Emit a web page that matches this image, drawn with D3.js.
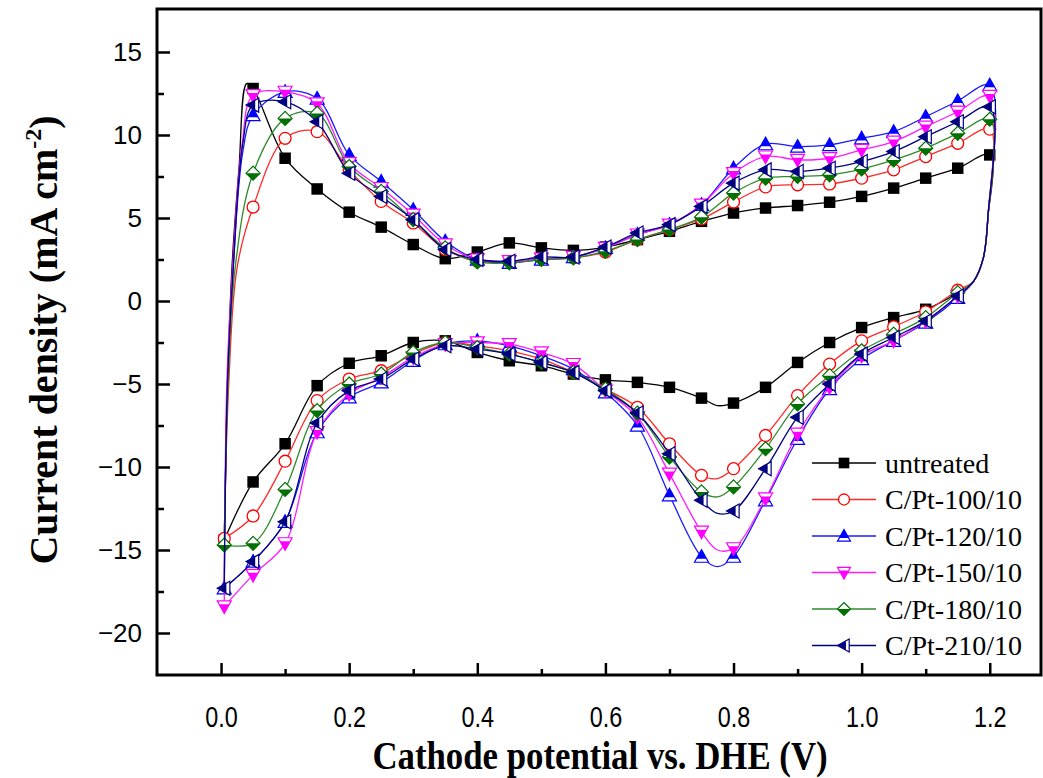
<!DOCTYPE html>
<html>
<head>
<meta charset="utf-8">
<script src="https://cdn.jsdelivr.net/npm/d3@7"></script>
<style>
  body { margin: 0; background: #fff; }
  svg { display: block; }
  .axis path, .axis line { stroke: #000; }
  .ytick text { font-family: "Liberation Sans", Arial, sans-serif; font-size: 26px; }
  .xtick text { font-family: "Liberation Sans", Arial, sans-serif; font-size: 30px; }
  .title { font-family: "Liberation Serif", "Times New Roman", serif; font-weight: bold; font-size: 40px; }
  .legend text { font-family: "Liberation Serif", "Times New Roman", serif; font-size: 28px; }
</style>
</head>
<body>
<svg id="chart" width="1043" height="778"></svg>
<script>
'use strict';

// potentials where the markers sit (V vs DHE)
const fwdV = [0.05, 0.10, 0.15, 0.20, 0.25, 0.30, 0.35, 0.40, 0.45, 0.50, 0.55, 0.60,
              0.65, 0.70, 0.75, 0.80, 0.85, 0.90, 0.95, 1.00, 1.05, 1.10, 1.15, 1.20];
const bwdV = [1.15, 1.10, 1.05, 1.00, 0.95, 0.90, 0.85, 0.80, 0.75, 0.70, 0.65, 0.60,
              0.55, 0.50, 0.45, 0.40, 0.35, 0.30, 0.25, 0.20, 0.15, 0.10, 0.05, 0.005];

// sharp turn at the anodic end (no markers)
const turnV = [1.197, 1.19, 1.175];
const turnJ = [5.0, 2.6, 1.2];

const seriesNames = ['untreated', 'C/Pt-100/10', 'C/Pt-120/10', 'C/Pt-150/10', 'C/Pt-180/10', 'C/Pt-210/10'];

// current density, mA cm-2, anodic scan
const untreatedFwd = [12.8, 8.6, 6.75, 5.35, 4.45, 3.4, 2.55, 2.95, 3.5, 3.2, 3.05, 3.25,
                      3.7, 4.2, 4.8, 5.3, 5.6, 5.75, 5.95, 6.3, 6.8, 7.4, 8.0, 8.8];
const pt100Fwd = [5.66, 9.8, 10.2, 7.9, 6.0, 4.7, 3.1, 2.4, 2.35, 2.5, 2.6, 2.95,
                  3.7, 4.3, 4.94, 5.96, 6.87, 7.0, 7.05, 7.4, 7.9, 8.7, 9.5, 10.35];
const pt120Fwd = [11.2, 12.6, 12.2, 8.8, 7.2, 5.5, 3.6, 2.5, 2.3, 2.5, 2.65, 3.2,
                  4.0, 4.6, 5.8, 8.0, 9.45, 9.3, 9.4, 9.8, 10.2, 11.1, 12.05, 13.0];
const pt150Fwd = [12.4, 12.6, 11.9, 8.3, 6.8, 5.2, 3.4, 2.5, 2.4, 2.55, 2.65, 3.2,
                  4.0, 4.6, 5.8, 7.7, 8.7, 8.5, 8.6, 9.1, 9.6, 10.5, 11.4, 12.35];
const pt180Fwd = [7.7, 11.0, 11.3, 8.1, 6.6, 4.9, 3.2, 2.35, 2.3, 2.5, 2.6, 3.0,
                  3.7, 4.3, 5.05, 6.5, 7.4, 7.5, 7.6, 7.95, 8.5, 9.2, 10.1, 10.95];
const pt210Fwd = [11.8, 12.0, 10.8, 7.7, 6.3, 4.9, 3.1, 2.5, 2.4, 2.65, 2.65, 3.25,
                  4.1, 4.6, 5.7, 7.1, 7.9, 7.8, 8.0, 8.4, 9.0, 9.9, 10.8, 11.7];

// cathodic scan
const untreatedBwd = [0.5, -0.5, -1.0, -1.6, -2.5, -3.7, -5.2, -6.15, -5.85, -5.2, -4.9, -4.75,
                      -4.4, -3.9, -3.6, -3.1, -2.4, -2.5, -3.3, -3.75, -5.1, -8.6, -10.9, -14.4];
const pt100Bwd = [0.65, -0.65, -1.55, -2.4, -3.8, -5.7, -8.1, -10.1, -10.5, -8.6, -6.4, -5.3,
                  -4.3, -3.5, -3.0, -2.7, -2.5, -3.2, -4.2, -4.7, -6.0, -9.65, -12.95, -14.3];
const pt120Bwd = [0.2, -1.3, -2.4, -3.5, -5.3, -8.3, -12.0, -15.4, -15.4, -11.7, -7.5, -5.5,
                  -4.1, -3.3, -2.7, -2.4, -2.6, -3.6, -4.9, -5.8, -7.9, -13.3, -15.7, -17.3];
const pt150Bwd = [0.3, -1.2, -2.4, -3.3, -5.2, -8.0, -11.9, -14.9, -13.9, -10.4, -7.0, -5.4,
                  -3.8, -3.1, -2.6, -2.5, -2.6, -3.4, -4.6, -5.6, -7.9, -14.6, -16.5, -18.4];
const pt180Bwd = [0.5, -1.0, -2.0, -3.0, -4.5, -6.2, -8.9, -11.2, -11.5, -9.4, -6.75, -5.3,
                  -4.3, -3.7, -3.2, -2.8, -2.5, -3.1, -4.4, -5.0, -6.6, -11.35, -14.6, -14.7];
const pt210Bwd = [0.3, -1.2, -2.2, -3.2, -5.0, -7.0, -10.1, -12.65, -12.0, -9.2, -6.75, -5.4,
                  -4.3, -3.7, -3.2, -2.9, -2.7, -3.5, -4.7, -5.4, -7.35, -13.3, -15.7, -17.3];

// steep rise from the cathodic end up to the first marker (no markers)
const untreatedRise = [[0.010, -5], [0.017, 2], [0.028, 8], [0.040, 13.1]];
const pt100Rise = [[0.012, -5], [0.025, 2]];
const pt120Rise = [[0.010, -5], [0.019, 2], [0.034, 9]];
const pt150Rise = [[0.009, -5], [0.018, 2], [0.033, 9.5]];
const pt180Rise = [[0.011, -5], [0.022, 2]];
const pt210Rise = [[0.010, -5], [0.019, 2], [0.034, 9.5]];

// bottom of the cathodic peak, between the 0.80 and 0.75 markers (no markers)
const peakV = 0.775;
const peakJ = [-6.3, -10.7, -16.0, -15.0, -11.8, -12.8];

const xTicks = [0.0, 0.2, 0.4, 0.6, 0.8, 1.0, 1.2];
const yTicks = [-20, -15, -10, -5, 0, 5, 10, 15];

const fwdAll = [untreatedFwd, pt100Fwd, pt120Fwd, pt150Fwd, pt180Fwd, pt210Fwd];
const bwdAll = [untreatedBwd, pt100Bwd, pt120Bwd, pt150Bwd, pt180Bwd, pt210Bwd];
const riseAll = [untreatedRise, pt100Rise, pt120Rise, pt150Rise, pt180Rise, pt210Rise];

const lineColors = ['#000000', '#ff2a2a', '#1a1aff', '#ff1aff', '#2e8b2e', '#000080'];
const markColors = ['#000000', '#ff0000', '#0000ff', '#ff00ff', '#007000', '#000080'];
const shapes = ['square', 'circle', 'up', 'down', 'diamond', 'left'];

const svg = d3.select('#chart');

const frame = {left: 157, right: 1041, top: 9, bottom: 675};

const x = d3.scaleLinear().domain([-0.1, 1.28]).range([frame.left, frame.right]);
const y = d3.scaleLinear().domain([-22.53, 17.59]).range([frame.bottom, frame.top]);

// ---- axes (ticks point inward)
const xAxis = d3.axisBottom(x).tickValues(xTicks).tickSize(-12).tickPadding(31)
  .tickFormat(d3.format('.1f'));
const xMinor = d3.axisBottom(x).tickValues([0.1, 0.3, 0.5, 0.7, 0.9, 1.1]).tickSize(-6).tickFormat('');

svg.append('g').attr('class', 'axis xtick')
  .attr('transform', `translate(0,${frame.bottom})`)
  .call(xAxis)
  .call(g => g.select('.domain').remove())
  .call(g => g.selectAll('line').attr('stroke-width', 2.5))
  // narrow digits like the original
  .call(g => g.selectAll('text').attr('transform', 'scale(0.78,1)'));
svg.append('g').attr('class', 'axis')
  .attr('transform', `translate(0,${frame.bottom})`)
  .call(xMinor)
  .call(g => g.select('.domain').remove())
  .call(g => g.selectAll('line').attr('stroke-width', 2.5));

const yAxis = d3.axisLeft(y).tickValues(yTicks).tickSize(-13).tickPadding(15);
const yMinor = d3.axisLeft(y).tickValues([-17.5, -12.5, -7.5, -2.5, 2.5, 7.5, 12.5]).tickSize(-7).tickFormat('');

svg.append('g').attr('class', 'axis ytick')
  .attr('transform', `translate(${frame.left},0)`)
  .call(yAxis)
  .call(g => g.select('.domain').remove())
  .call(g => g.selectAll('line').attr('stroke-width', 2.5));
svg.append('g').attr('class', 'axis')
  .attr('transform', `translate(${frame.left},0)`)
  .call(yMinor)
  .call(g => g.select('.domain').remove())
  .call(g => g.selectAll('line').attr('stroke-width', 2.5));

// frame
svg.append('rect')
  .attr('x', frame.left).attr('y', frame.top)
  .attr('width', frame.right - frame.left).attr('height', frame.bottom - frame.top)
  .attr('fill', 'none').attr('stroke', '#000').attr('stroke-width', 3);

// titles
svg.append('text').attr('class', 'title')
  .attr('transform', 'translate(600,769) scale(0.87,1)')
  .attr('text-anchor', 'middle')
  .text('Cathode potential vs. DHE (V)');

const yt = svg.append('text').attr('class', 'title')
  .attr('transform', 'translate(57,340) rotate(-90)')
  .attr('text-anchor', 'middle');
yt.append('tspan').text('Current density (mA cm');
yt.append('tspan').attr('font-size', '24px').attr('dy', -16).text('-2');
yt.append('tspan').attr('dy', 16).text(')');

// ---- marker drawing
function drawMarker(g, shape, color, s) {
  if (shape === 'square') {
    g.append('rect').attr('x', -s * 0.82).attr('y', -s * 0.82)
      .attr('width', s * 1.64).attr('height', s * 1.64).attr('fill', color);
  } else if (shape === 'circle') {
    g.append('circle').attr('r', s * 0.85).attr('fill', '#fff')
      .attr('stroke', color).attr('stroke-width', 1.3);
  } else if (shape === 'up') {
    g.append('path').attr('d', `M0,${-s}L${s},${s * 0.8}L${-s},${s * 0.8}Z`)
      .attr('fill', '#fff').attr('stroke', color).attr('stroke-width', 1.2);
    g.append('path').attr('d', `M0,${-s}L${s * 0.72},${s * 0.3}L${-s * 0.72},${s * 0.3}Z`)
      .attr('fill', color);
  } else if (shape === 'down') {
    g.append('path').attr('d', `M${-s},${-s * 0.8}L${s},${-s * 0.8}L0,${s}Z`)
      .attr('fill', '#fff').attr('stroke', color).attr('stroke-width', 1.2);
    g.append('path').attr('d', `M${-s * 0.72},${-s * 0.3}L${s * 0.72},${-s * 0.3}L0,${s}Z`)
      .attr('fill', color);
  } else if (shape === 'diamond') {
    g.append('path').attr('d', `M0,${-s}L${s},0L0,${s}L${-s},0Z`)
      .attr('fill', '#fff').attr('stroke', color).attr('stroke-width', 1.2);
    g.append('path').attr('d', `M${-s},0L${s},0L0,${s}Z`)
      .attr('fill', color);
  } else if (shape === 'left') {
    g.append('path').attr('d', `M${-s},0L${s * 0.8},${-s}L${s * 0.8},${s}Z`)
      .attr('fill', '#fff').attr('stroke', color).attr('stroke-width', 1.2);
    g.append('path').attr('d', `M${-s},0L${s * 0.3},${-s * 0.72}L${s * 0.3},${s * 0.72}Z`)
      .attr('fill', color);
  }
}

// ---- curves
const line = d3.line()
  .x(d => x(d[0]))
  .y(d => y(d[1]))
  .curve(d3.curveCatmullRom.alpha(0.5));

const plot = svg.append('g');

seriesNames.forEach((name, i) => {
  const fwd = fwdV.map((v, k) => [v, fwdAll[i][k]]);
  const bwd = bwdV.map((v, k) => [v, bwdAll[i][k]]);
  const turn = turnV.map((v, k) => [v, turnJ[k]]);
  const start = bwd[bwd.length - 1];
  // the cathodic path with the unmarked peak bottom slotted in after 0.80
  const k80 = bwdV.indexOf(0.80);
  const bwdPath = bwd.slice(0, k80 + 1).concat([[peakV, peakJ[i]]], bwd.slice(k80 + 1));
  const pts = [start].concat(riseAll[i], fwd, turn, bwdPath);

  const g = plot.append('g');
  g.append('path')
    .attr('d', line(pts))
    .attr('fill', 'none')
    .attr('stroke', lineColors[i])
    .attr('stroke-width', 1.3);

  g.selectAll('g.mk').data(fwd.concat(bwd)).enter()
    .append('g').attr('class', 'mk')
    .attr('transform', d => `translate(${x(d[0])},${y(d[1])})`)
    .each(function() { drawMarker(d3.select(this), shapes[i], markColors[i], 7); });
});

// ---- legend
const legend = svg.append('g').attr('class', 'legend');
const legY = [463, 499.5, 536, 572.5, 609, 645.5];

seriesNames.forEach((name, i) => {
  const row = legend.append('g').attr('transform', `translate(0,${legY[i]})`);
  row.append('line').attr('x1', 812).attr('x2', 876)
    .attr('stroke', lineColors[i]).attr('stroke-width', 1.6);
  drawMarker(row.append('g').attr('transform', 'translate(844,0)'), shapes[i], markColors[i], 6.5);
  row.append('text').attr('x', 885).attr('y', 9.5).text(name);
});
</script>
</body>
</html>
